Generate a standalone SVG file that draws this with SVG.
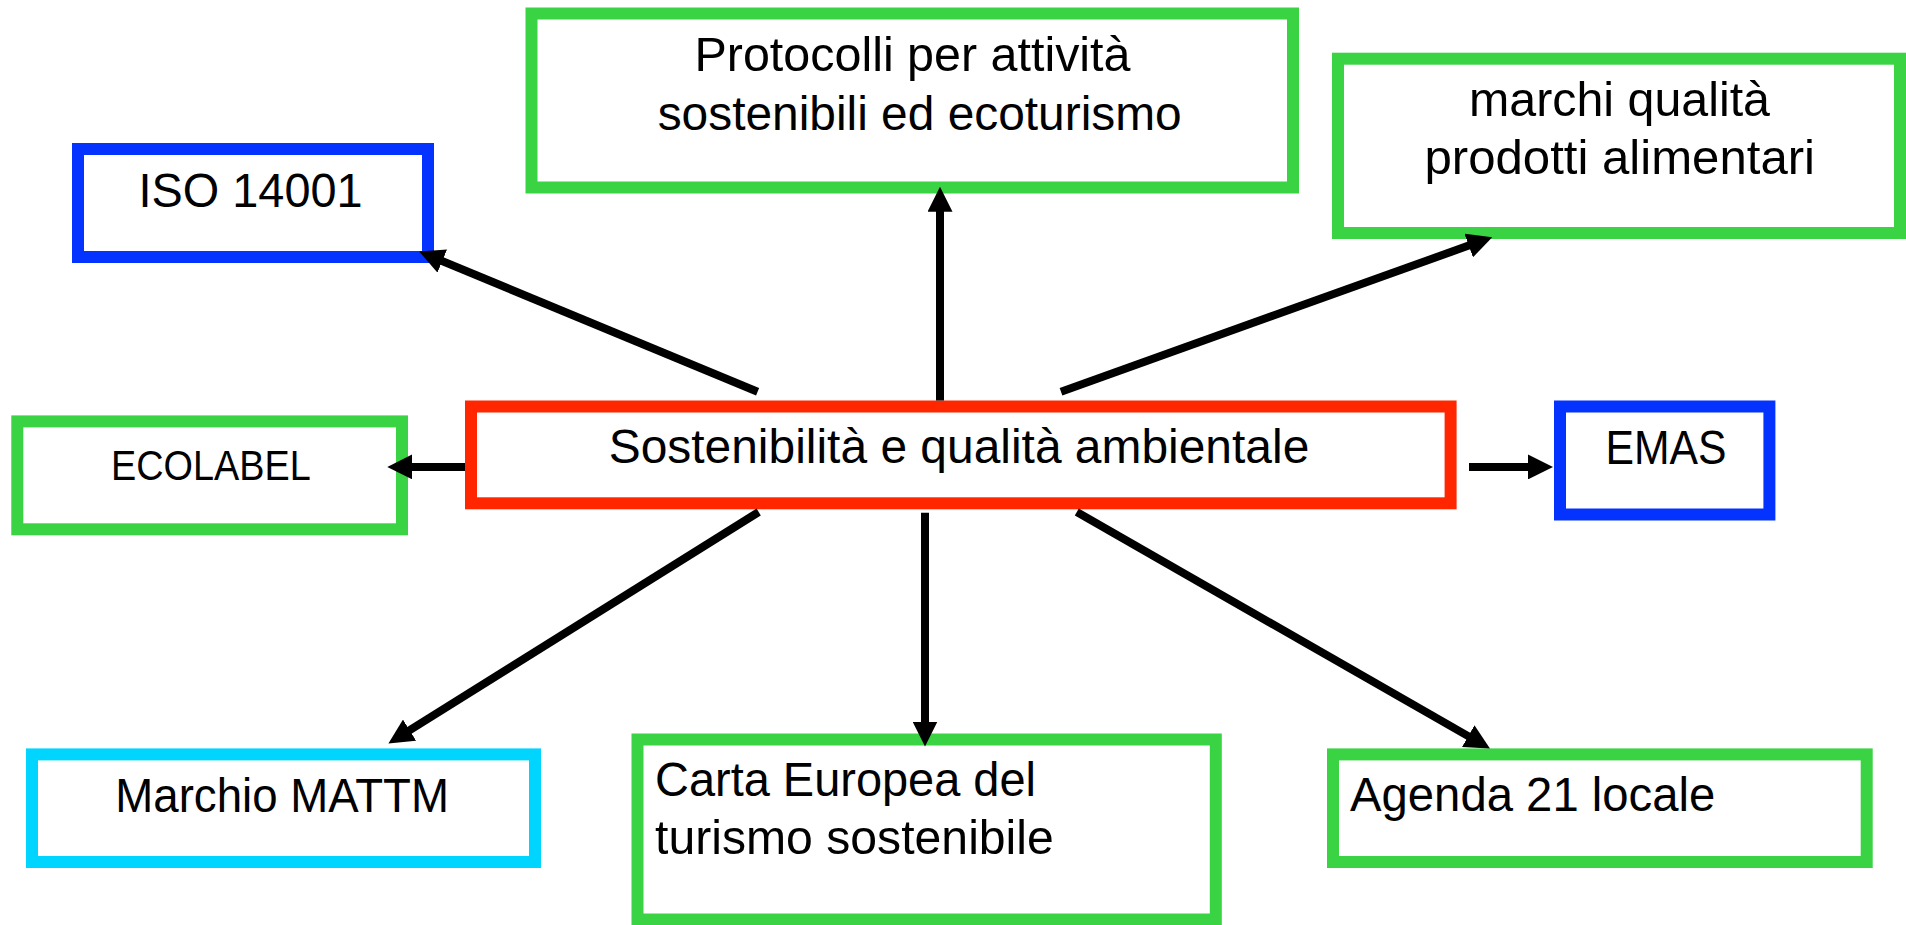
<svg xmlns="http://www.w3.org/2000/svg" width="1906" height="925" viewBox="0 0 1906 925">
<style>
.box{fill:#fff;stroke-width:12}
.g{stroke:#3AD344}
.b{stroke:#0433FF}
.r{stroke:#FF2600}
.c{stroke:#00D5FF}
text{font-family:"Liberation Sans",Arial,sans-serif;font-size:48px;fill:#000}
.conn path{fill:none;stroke:#000;stroke-width:8;marker-end:url(#ah)}
</style>
<defs>
<marker id="ah" markerUnits="userSpaceOnUse" markerWidth="25" markerHeight="25" viewBox="0 0 24 24" refX="12" refY="12" orient="auto"><path d="M0,0 L24,12 L0,24 z" fill="#000"/></marker>
</defs>
<rect width="1906" height="925" fill="#fff"/>
<g id="n-protocolli"><rect class="box g" x="531.5" y="13.5" width="761.5" height="174"/>
<text x="694.5" y="71" textLength="436" lengthAdjust="spacingAndGlyphs">Protocolli per attività</text>
<text x="657.7" y="130" textLength="524" lengthAdjust="spacingAndGlyphs">sostenibili ed ecoturismo</text></g>
<g id="n-iso"><rect class="box b" x="78" y="149" width="350" height="108"/>
<text x="138.6" y="207.3" textLength="224" lengthAdjust="spacingAndGlyphs">ISO 14001</text></g>
<g id="n-marchi"><rect class="box g" x="1338" y="58.7" width="562" height="174.3"/>
<text x="1469" y="115.7" textLength="301" lengthAdjust="spacingAndGlyphs">marchi qualità</text>
<text x="1424.5" y="174" textLength="390.5" lengthAdjust="spacingAndGlyphs">prodotti alimentari</text></g>
<g id="n-center"><rect class="box r" x="471" y="406.5" width="979.6" height="96.8"/>
<text x="608.7" y="463.4" textLength="700.6" lengthAdjust="spacingAndGlyphs">Sostenibilità e qualità ambientale</text></g>
<g id="n-ecolabel"><rect class="box g" x="17.3" y="421.4" width="384.7" height="107.9"/>
<text x="111" y="479.8" style="font-size:42px" textLength="199.7" lengthAdjust="spacingAndGlyphs">ECOLABEL</text></g>
<g id="n-emas"><rect class="box b" x="1560" y="406.5" width="209.4" height="108"/>
<text x="1605.5" y="464" textLength="121" lengthAdjust="spacingAndGlyphs">EMAS</text></g>
<g id="n-mattm"><rect class="box c" x="32" y="754.4" width="503" height="107.6"/>
<text x="115.3" y="812" textLength="333.7" lengthAdjust="spacingAndGlyphs">Marchio MATTM</text></g>
<g id="n-carta"><rect class="box g" x="637.5" y="739.5" width="578.3" height="180"/>
<text x="655" y="796" textLength="381" lengthAdjust="spacingAndGlyphs">Carta Europea del</text>
<text x="655" y="854.4" textLength="398.8" lengthAdjust="spacingAndGlyphs">turismo sostenibile</text></g>
<g id="n-agenda"><rect class="box g" x="1333" y="754.4" width="533.7" height="107.6"/>
<text x="1350" y="811" textLength="365.3" lengthAdjust="spacingAndGlyphs">Agenda 21 locale</text></g>
<g id="connectors" class="conn">
<path d="M757.6,391.7 L430.7,256.3"/>
<path d="M940,400.5 L940,199.3"/>
<path d="M1061,391.7 L1480.5,241.35"/>
<path d="M465,466.9 L399.8,466.9"/>
<path d="M1469,466.9 L1540.5,466.9"/>
<path d="M758.7,512 L399,736.8"/>
<path d="M925,512.8 L925,734"/>
<path d="M1076.8,512 L1479.1,742.4"/>
</g>
</svg>
